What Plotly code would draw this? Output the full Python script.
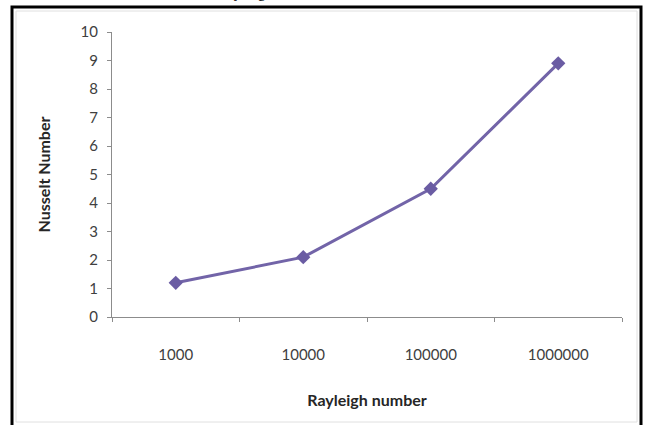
import plotly.graph_objects as go

rayleigh = ["1000", "10000", "100000", "1000000"]
nusselt = [1.2, 2.1, 4.5, 8.9]
y_ticks = list(range(0, 11))

fig = go.Figure()
fig.add_trace(go.Scatter(
    x=rayleigh, y=nusselt, mode="lines+markers",
    line=dict(color="#7264a8", width=3),
    marker=dict(symbol="diamond", size=11, color="#6a5ca3"),
    showlegend=False,
))

font_family = "Lato, 'Open Sans', Arial, sans-serif"
W, H = 645, 425
L, T = 112, 32
PW, PH = 510, 285


def px(x):
    return (x - L) / PW


def py(y):
    return (T + PH - y) / PH


fig.update_layout(
    width=W, height=H,
    margin=dict(l=L, r=W - L - PW, t=T, b=H - T - PH),
    paper_bgcolor="white", plot_bgcolor="white",
    font=dict(family=font_family, size=15, color="#404040"),
    xaxis=dict(
        type="category", range=[-0.5, 3.5],
        showline=True, linecolor="#8c8c8c", linewidth=1,
        ticks="outside", ticklen=4, tickcolor="#8c8c8c", tickson="boundaries",
        showgrid=False, zeroline=False,
        ticklabelstandoff=24,
        tickfont=dict(size=15, color="#404040"),
        title=dict(text="<b>Rayleigh number</b>", standoff=32,
                   font=dict(size=16, color="#262626")),
    ),
    yaxis=dict(
        range=[0, 10], tickvals=y_ticks,
        showline=True, linecolor="#8c8c8c", linewidth=1,
        ticks="outside", ticklen=4, tickcolor="#8c8c8c",
        showgrid=False, zeroline=False,
        ticklabelstandoff=6,
        tickfont=dict(size=15, color="#404040"),
        title=dict(text="<b>Nusselt Number</b>", standoff=25,
                   font=dict(size=16, color="#262626")),
    ),
    shapes=[
        dict(type="rect", xref="paper", yref="paper",
             x0=px(16), x1=px(637), y0=py(422), y1=py(11),
             line=dict(color="#e0e0e0", width=1)),
        dict(type="rect", xref="paper", yref="paper",
             x0=px(12), x1=px(641), y0=py(440), y1=py(7),
             line=dict(color="black", width=3)),
    ],
    annotations=[
        dict(text="Rayleigh", xref="paper", yref="paper",
             x=px(214), y=py(3), yanchor="bottom",
             showarrow=False, font=dict(family="Liberation Serif, Times New Roman, serif",
                                        size=16, color="black")),
    ],
)

fig.write_html("out.html",
               config={"displayModeBar": False},
               post_script="document.body.style.margin='0';document.body.style.overflow='hidden';")
